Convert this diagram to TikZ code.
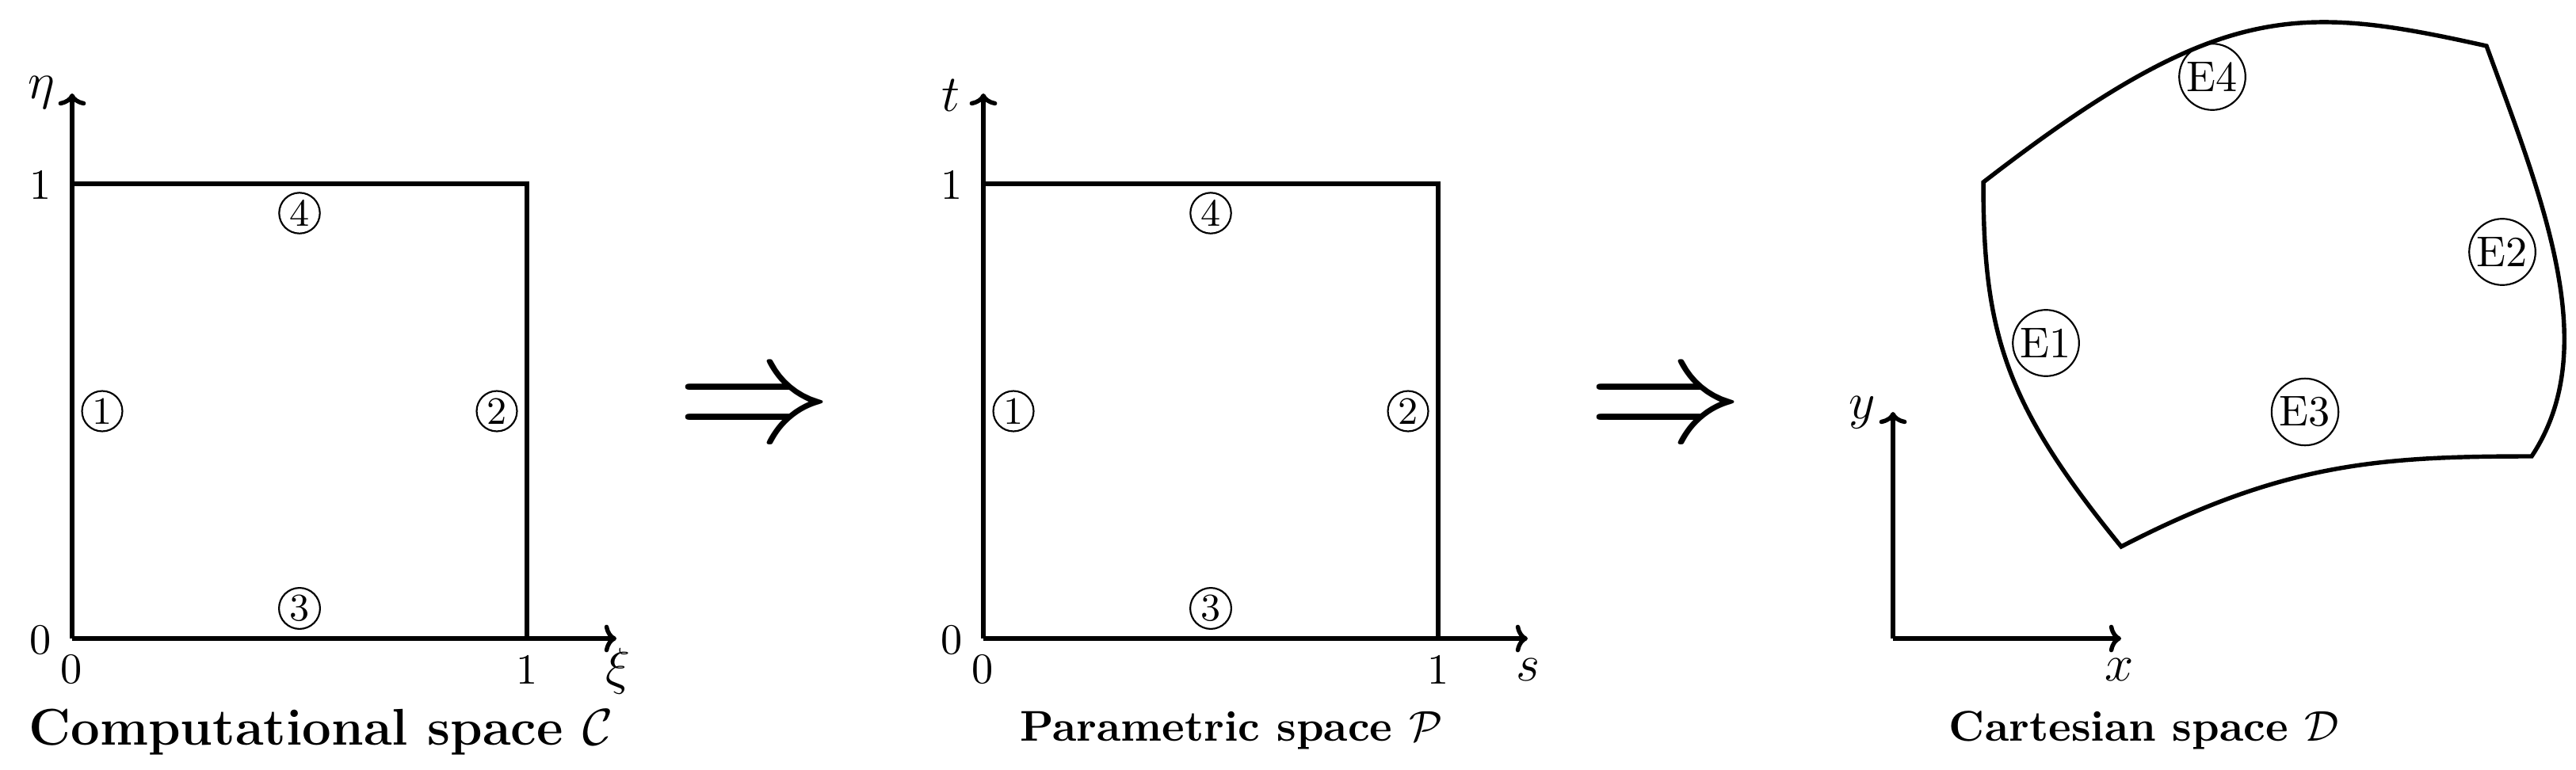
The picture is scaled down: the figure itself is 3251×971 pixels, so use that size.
\documentclass[tikz,border=0pt]{standalone}
\usepackage{graphicx}
\usetikzlibrary{arrows.meta}
\begin{document}
\begin{tikzpicture}[x=0.18416pt,y=-0.18416pt,
  ln/.style={line width=1pt},
  axisarrow/.style={line width=1pt,-{To[length=2.8pt,width=6.4pt]}},
  cnum/.style={circle,draw,line width=0.4pt,inner sep=0.65pt,font=\small},
  enum/.style={circle,draw,line width=0.4pt,inner sep=0.65pt},
  alab/.style={font=\large,inner sep=0pt},
  tlab/.style={inner sep=0pt},
  capt/.style={anchor=base,inner sep=0pt,font=\bfseries},
  implies/.style={anchor=base,inner sep=0pt}]
\useasboundingbox (0,0) rectangle (3251,971);
% ---------- panel 1 ----------
\coordinate (o1) at (91,806);
\coordinate (yt1) at (91,118);
\coordinate (xt1) at (778,806);
\coordinate (tl1) at (91,232);
\coordinate (tr1) at (665,232);
\coordinate (br1) at (665,806);
\draw[axisarrow] (o1) -- (yt1);
\draw[axisarrow] (o1) -- (xt1);
\draw[ln] (tl1) -- (tr1) -- (br1);
\node[alab] (eta) at (52,117) {$\eta$};
\node[alab] (xi) at (780,847) {$\xi$};
\node[tlab] (p1y1) at (51,233) {1};
\node[tlab] (p1y0) at (51,808) {0};
\node[tlab] (p1x0) at (90,845) {0};
\node[tlab] (p1x1) at (665,845) {1};
\node[cnum] (c1a) at (129,519) {1};
\node[cnum] (c2a) at (627,519) {2};
\node[cnum] (c4a) at (378,269) {4};
\node[cnum] (c3a) at (378,768) {3};
\node[capt,font=\large\bfseries] (cap1) at (405,940) {Computational space $\mathcal{C}$};
% ---------- arrows ----------
\node[implies] (imp1) at (952,556) {\scalebox{3.6}{$\Rightarrow$}};
\node[implies] (imp2) at (2102,556) {\scalebox{3.6}{$\Rightarrow$}};
% ---------- panel 2 ----------
\coordinate (o2) at (1241,806);
\coordinate (yt2) at (1241,118);
\coordinate (xt2) at (1928,806);
\coordinate (tl2) at (1241,232);
\coordinate (tr2) at (1815,232);
\coordinate (br2) at (1815,806);
\draw[axisarrow] (o2) -- (yt2);
\draw[axisarrow] (o2) -- (xt2);
\draw[ln] (tl2) -- (tr2) -- (br2);
\node[alab] (tlabel) at (1200,120) {$t$};
\node[alab] (slabel) at (1928,845) {$s$};
\node[tlab] (p2y1) at (1201,233) {1};
\node[tlab] (p2y0) at (1201,808) {0};
\node[tlab] (p2x0) at (1240,845) {0};
\node[tlab] (p2x1) at (1815,845) {1};
\node[cnum] (c1b) at (1279,519) {1};
\node[cnum] (c2b) at (1777,519) {2};
\node[cnum] (c4b) at (1528,269) {4};
\node[cnum] (c3b) at (1528,768) {3};
\node[capt] (cap2) at (1554,935) {Parametric space $\mathcal{P}$};
% ---------- panel 3 ----------
\coordinate (o3) at (2389,806);
\coordinate (yt3) at (2389,520);
\coordinate (xt3) at (2677,806);
\draw[axisarrow] (o3) -- (yt3);
\draw[axisarrow] (o3) -- (xt3);
\node[alab] (ylabel) at (2350,521) {$y$};
\node[alab] (xlabel) at (2675,845) {$x$};
\coordinate (dTL) at (2503,230);
\coordinate (dTR) at (3138,58);
\coordinate (dBR) at (3195,576);
\coordinate (dBL) at (2677,690);
\draw[ln,line join=miter]
  (dTL) .. controls (2800,0) and (2900,5) .. (dTR)
        .. controls (3210,255) and (3285,440) .. (dBR)
        .. controls (3000,576) and (2880,585) .. (dBL)
        .. controls (2530,510) and (2503,420) .. cycle;
\node[enum] (e1) at (2582,433) {E1};
\node[enum] (e2) at (3158,318) {E2};
\node[enum] (e3) at (2909,520) {E3};
\node[enum] (e4) at (2792,97) {E4};
\node[capt] (cap3) at (2706,935) {Cartesian space $\mathcal{D}$};
\end{tikzpicture}
\end{document}
